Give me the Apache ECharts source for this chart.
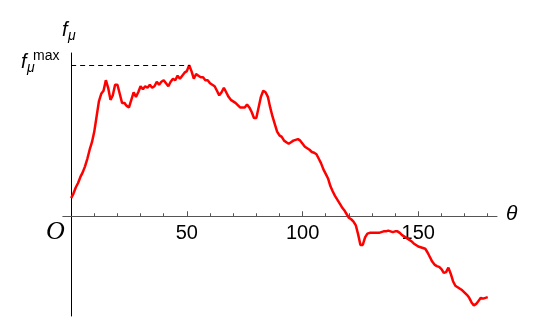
<!DOCTYPE html>
<html>
<head>
<meta charset="utf-8">
<script src="https://cdn.jsdelivr.net/npm/echarts@6/dist/echarts.min.js"></script>
<style>
  html, body { margin: 0; padding: 0; background: #fff; }
  #chart { width: 550px; height: 333px; }
</style>
</head>
<body>
<div id="chart"></div>
<script>
// theta in degrees, one reading per degree
const thetaValues = []
for (let t = 0; t <= 180; t++) thetaValues.push(t)

// f_mu (f_mu max = 1)
const fValues = [
  0.12, 0.15, 0.19, 0.22, 0.26, 0.29, 0.33, 0.38, 0.44, 0.49,
  0.56, 0.66, 0.76, 0.81, 0.83, 0.90, 0.85, 0.77, 0.80, 0.87,
  0.87, 0.81, 0.75, 0.75, 0.73, 0.72, 0.77, 0.82, 0.79, 0.82,
  0.86, 0.84, 0.86, 0.85, 0.87, 0.85, 0.86, 0.89, 0.87, 0.89,
  0.90, 0.88, 0.86, 0.89, 0.91, 0.90, 0.93, 0.91, 0.93, 0.95,
  0.96, 1.00, 0.96, 0.91, 0.94, 0.93, 0.92, 0.92, 0.90, 0.90,
  0.88, 0.87, 0.86, 0.83, 0.80, 0.82, 0.85, 0.82, 0.79, 0.77,
  0.76, 0.75, 0.735, 0.72, 0.72, 0.72, 0.74, 0.72, 0.69, 0.65,
  0.65, 0.72, 0.79, 0.83, 0.82, 0.79, 0.72, 0.66, 0.61, 0.56,
  0.535, 0.525, 0.50, 0.49, 0.48, 0.49, 0.50, 0.505, 0.51, 0.50,
  0.48, 0.46, 0.45, 0.44, 0.425, 0.42, 0.41, 0.38, 0.35, 0.31,
  0.28, 0.25, 0.20, 0.165, 0.135, 0.11, 0.085, 0.06, 0.04, 0.015,
  -0.01, -0.02, -0.035, -0.06, -0.12, -0.19, -0.19, -0.14, -0.115, -0.11,
  -0.11, -0.11, -0.11, -0.11, -0.105, -0.10, -0.10, -0.095, -0.10, -0.105,
  -0.10, -0.10, -0.11, -0.125, -0.135, -0.145, -0.155, -0.165, -0.18, -0.19,
  -0.20, -0.205, -0.21, -0.215, -0.24, -0.27, -0.30, -0.32, -0.33, -0.335,
  -0.35, -0.375, -0.37, -0.34, -0.38, -0.43, -0.46, -0.47, -0.48, -0.49,
  -0.505, -0.52, -0.54, -0.57, -0.59, -0.58, -0.56, -0.54, -0.545, -0.54,
  -0.535
]

const minorTicks = [10, 20, 30, 40, 50, 60, 70, 80, 90, 100, 110, 120, 130, 140, 150, 160, 170, 180]
const majorTicks = [50, 100, 150]
const fMax = 1
const fMaxTheta = 51.4

const yMin = -0.66
const yMax = 1.08
const gridTop = 53
const gridBottom = 17
const chartHeight = 333

// move the theta axis up from the grid bottom to f = 0
const plotHeight = chartHeight - gridTop - gridBottom
const zeroOffset = -(plotHeight * (0 - yMin) / (yMax - yMin))

const chart = echarts.init(document.getElementById('chart'))

const seriesData = thetaValues.map((t, i) => [t, fValues[i]])

const option = {
  animation: false,
  backgroundColor: '#fff',
  grid: { left: 62.8, right: 53, top: gridTop, bottom: gridBottom, outerBoundsMode: 'none', containLabel: false },
  xAxis: [
    {
      type: 'value',
      min: -3.6,
      max: 184,
      position: 'bottom',
      offset: zeroOffset,
      axisLine: { show: true, onZero: false, lineStyle: { color: '#555', width: 1 } },
      axisTick: { show: true, inside: true, length: 3, customValues: minorTicks, lineStyle: { color: '#555' } },
      axisLabel: {
        show: true,
        customValues: majorTicks,
        margin: 7,
        color: '#000',
        fontSize: 20,
        fontFamily: 'Liberation Sans, Arial, sans-serif'
      },
      splitLine: { show: false }
    },
    {
      // longer ticks at the labelled values
      type: 'value',
      min: -3.6,
      max: 184,
      position: 'bottom',
      offset: zeroOffset,
      axisLine: { show: false, onZero: false },
      axisTick: { show: true, inside: true, length: 5, customValues: majorTicks, lineStyle: { color: '#555' } },
      axisLabel: { show: false },
      splitLine: { show: false }
    }
  ],
  yAxis: {
    type: 'value',
    min: yMin,
    max: yMax,
    axisLine: { show: true, onZero: true, lineStyle: { color: '#000', width: 1 } },
    axisTick: { show: false },
    axisLabel: { show: false },
    splitLine: { show: false }
  },
  graphic: [
    // f_mu (axis name)
    { type: 'text', left: 62, top: 20, style: { text: 'f', font: 'italic 20px Liberation Sans', fill: '#000' } },
    { type: 'text', left: 68, top: 29, style: { text: 'μ', font: 'italic 14px Liberation Sans', fill: '#000' } },
    // f_mu^max
    { type: 'text', left: 21, top: 52, style: { text: 'f', font: 'italic 20px Liberation Sans', fill: '#000' } },
    { type: 'text', left: 27, top: 61, style: { text: 'μ', font: 'italic 14px Liberation Sans', fill: '#000' } },
    { type: 'text', left: 33, top: 49, style: { text: 'max', font: '14px Liberation Sans', fill: '#000' } },
    // origin and theta
    { type: 'text', left: 46, top: 219, style: { text: 'O', font: 'italic 26px Liberation Serif', fill: '#000' } },
    { type: 'text', left: 506, top: 204, style: { text: 'θ', font: 'italic 21px Liberation Sans', fill: '#000' } }
  ],
  series: [
    {
      type: 'line',
      data: seriesData,
      showSymbol: false,
      smooth: false,
      lineStyle: { color: '#ff0000', width: 2.5 },
      itemStyle: { color: '#ff0000' },
      markLine: {
        silent: true,
        symbol: 'none',
        label: { show: false },
        lineStyle: { color: '#000', width: 1, type: [5, 4] },
        data: [[{ coord: [0, fMax] }, { coord: [fMaxTheta, fMax] }]]
      }
    }
  ]
}

chart.setOption(option)
</script>
</body>
</html>
